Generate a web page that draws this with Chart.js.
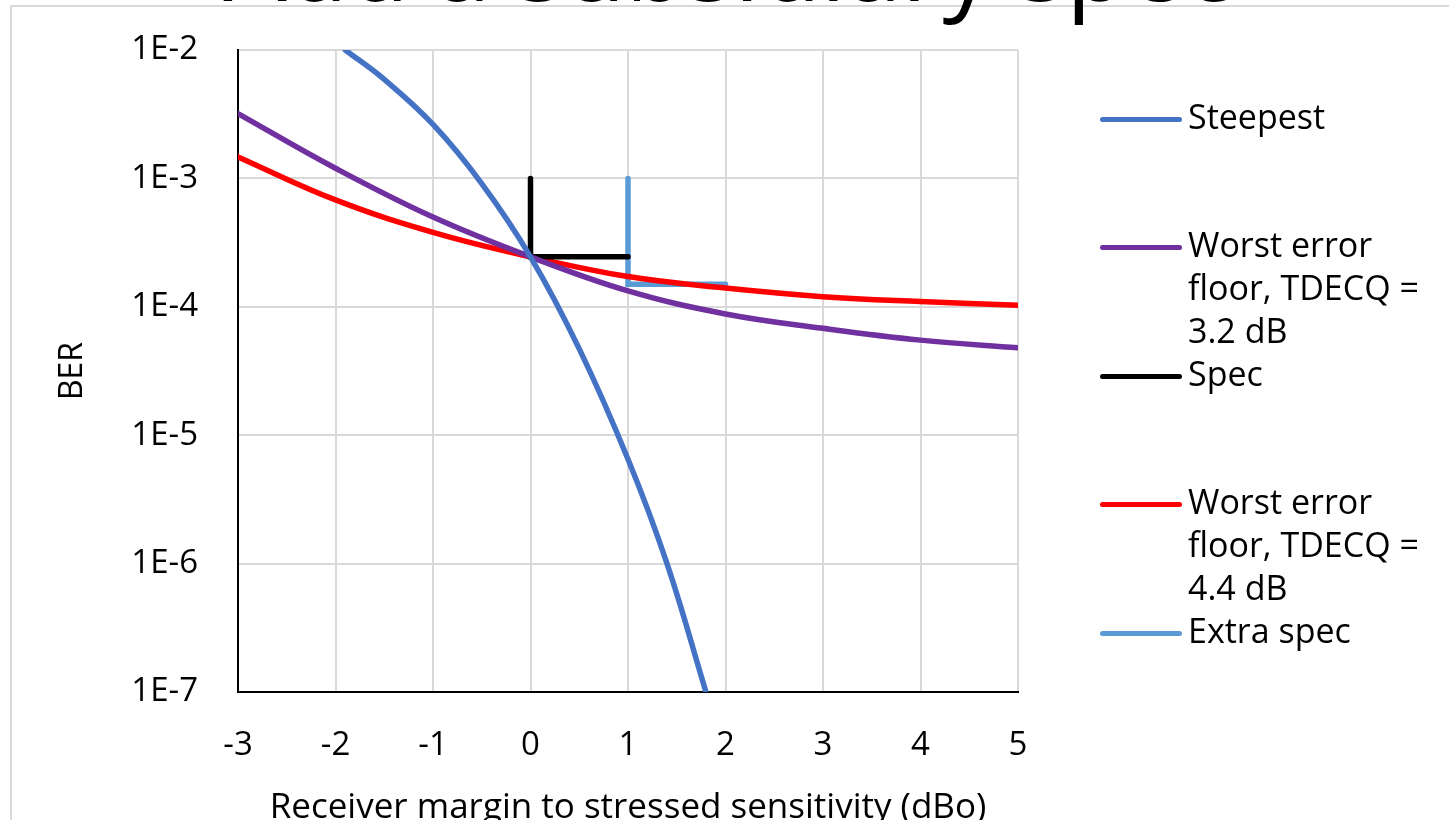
<!DOCTYPE html>
<html>
<head>
<meta charset="utf-8">
<script src="https://cdn.jsdelivr.net/npm/chart.js@4.4.1/dist/chart.umd.min.js"></script>
<style>
    html, body { margin: 0; padding: 0; background: #fff; overflow: hidden; }
    #wrap { position: relative; width: 1449px; height: 820px; overflow: hidden; font-family: "Open Sans", sans-serif; }
    #frame { position: absolute; left: 10px; top: 5px; width: 1500px; height: 900px; border: 2px solid #d9d9d9; box-sizing: border-box; }
    #chartTitle { position: absolute; left: 0; width: 1455px; top: -88px; text-align: center; font-size: 100px; line-height: 100px; color: #000; white-space: nowrap; }
    #berChart { position: absolute; left: 0; top: 0; }
    .legend-item { position: absolute; left: 1100px; }
    .legend-line { position: absolute; left: 0; width: 82px; height: 5px; border-radius: 3px; }
    .legend-text { position: absolute; left: 88px; width: 262px; font-size: 34px; line-height: 43px; color: #000; }
</style>
</head>
<body>
<div id="wrap">
    <div id="frame"></div>
    <canvas id="berChart" width="1449" height="820"></canvas>
    <div id="chartTitle">Add a subsidiary spec</div>
    <div id="legend"></div>
</div>
<script>
// series data (x = receiver margin in dBo, y = BER)
const steepestX = [-1.9, -1.5, -1.0, -0.5, 0, 0.5, 1.0, 1.4, 1.8];
const steepestY = [1.0e-2, 5.9e-3, 2.63e-3, 9.1e-4, 2.45e-4, 4.7e-5, 6.5e-6, 1.0e-6, 1.0e-7];

const floor32X = [-3, -2, -1, 0, 1, 2, 3, 4, 5];
const floor32Y = [3.2e-3, 1.2e-3, 5.0e-4, 2.45e-4, 1.33e-4, 8.8e-5, 6.8e-5, 5.5e-5, 4.8e-5];

const floor44X = [-3, -2, -1, 0, 1, 2, 3, 4, 5];
const floor44Y = [1.47e-3, 6.8e-4, 3.8e-4, 2.45e-4, 1.72e-4, 1.4e-4, 1.2e-4, 1.1e-4, 1.03e-4];

const specX = [0, 0, 1];
const specY = [1.0e-3, 2.45e-4, 2.45e-4];

const extraSpecX = [1, 1, 2];
const extraSpecY = [1.0e-3, 1.5e-4, 1.5e-4];

const seriesLabels = [
    'Steepest',
    'Worst error floor, TDECQ = 3.2 dB',
    'Spec',
    'Worst error floor, TDECQ = 4.4 dB',
    'Extra spec'
];
const seriesColors = ['#4472c4', '#7030a0', '#000000', '#ff0000', '#5b9bd5'];

// axis ticks
const xTickValues = [-3, -2, -1, 0, 1, 2, 3, 4, 5];
const yTickValues = [1e-7, 1e-6, 1e-5, 1e-4, 1e-3, 1e-2];
const yTickLabels = ['1E-7', '1E-6', '1E-5', '1E-4', '1E-3', '1E-2'];

const tickFont = { family: 'Open Sans', size: 33 };

function toPoints(xs, ys) {
    return xs.map((x, i) => ({ x: x, y: ys[i] }));
}

function makeDataset(idx, xs, ys, smooth) {
    return {
        label: seriesLabels[idx],
        data: toPoints(xs, ys),
        borderColor: seriesColors[idx],
        backgroundColor: seriesColors[idx],
        borderWidth: 5.5,
        pointRadius: 0,
        fill: false,
        tension: smooth ? 0.4 : 0,
        borderCapStyle: 'round',
        borderJoinStyle: 'miter'
    };
}

const berChart = new Chart(document.getElementById('berChart'), {
    type: 'line',
    data: {
        datasets: [
            makeDataset(0, steepestX, steepestY, true),
            makeDataset(1, floor32X, floor32Y, true),
            makeDataset(2, specX, specY, false),
            makeDataset(3, floor44X, floor44Y, true),
            makeDataset(4, extraSpecX, extraSpecY, false)
        ]
    },
    options: {
        responsive: false,
        animation: false,
        layout: { padding: { left: 0, top: 50, right: 431, bottom: 0 } },
        plugins: {
            legend: { display: false },
            title: { display: false },
            tooltip: { enabled: false }
        },
        scales: {
            x: {
                type: 'linear',
                min: -3,
                max: 5,
                afterFit: (scale) => { scale.height = 128; },
                afterBuildTicks: (scale) => { scale.ticks = xTickValues.map(v => ({ value: v })); },
                ticks: {
                    font: tickFont,
                    color: '#000',
                    padding: 34,
                    autoSkip: false,
                    maxRotation: 0,
                    callback: (v) => String(v)
                },
                grid: { color: '#d9d9d9', lineWidth: 2, drawTicks: false },
                border: { color: '#000', width: 2 },
                title: {
                    display: true,
                    text: 'Receiver margin to stressed sensitivity (dBo)',
                    font: { family: 'Open Sans', size: 35, lineHeight: 0.7 },
                    color: '#000',
                    padding: { top: 0, bottom: 0 }
                }
            },
            y: {
                type: 'logarithmic',
                min: 1e-7,
                max: 1e-2,
                afterFit: (scale) => {
                    // fixed plot box: left edge at 238, no extra label padding on top
                    scale.width = 238;
                    scale.paddingTop = 0;
                    scale.paddingBottom = 0;
                },
                afterBuildTicks: (scale) => { scale.ticks = yTickValues.map(v => ({ value: v })); },
                ticks: {
                    font: tickFont,
                    color: '#000',
                    padding: 40,
                    autoSkip: false,
                    callback: (v) => yTickLabels[yTickValues.findIndex(t => Math.abs(Math.log10(t) - Math.log10(v)) < 1e-6)]
                },
                grid: { color: '#d9d9d9', lineWidth: 2, drawTicks: false },
                border: { color: '#000', width: 2 },
                title: {
                    display: true,
                    text: 'BER',
                    font: { family: 'Open Sans', size: 32, lineHeight: 1 },
                    color: '#000',
                    padding: { top: 57, bottom: 0 }
                }
            }
        }
    }
});

// HTML legend, one item every three text lines like the original
function renderLegend(chart) {
    const box = document.getElementById('legend');
    box.innerHTML = '';
    chart.data.datasets.forEach((ds, i) => {
        const lineY = 119 + i * 128.5;
        const item = document.createElement('div');
        item.className = 'legend-item';
        item.style.top = (lineY - 24.5) + 'px';

        const line = document.createElement('div');
        line.className = 'legend-line';
        line.style.top = '22px';
        line.style.background = ds.borderColor;

        const text = document.createElement('div');
        text.className = 'legend-text';
        text.textContent = ds.label;

        item.appendChild(line);
        item.appendChild(text);
        box.appendChild(item);
    });
}

renderLegend(berChart);
</script>
</body>
</html>
